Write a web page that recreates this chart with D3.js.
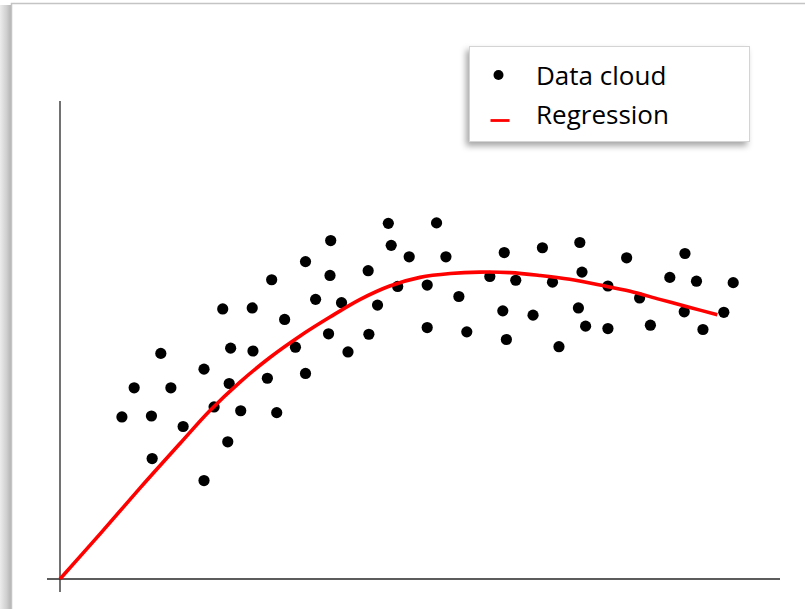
<!DOCTYPE html>
<html>
<head>
<meta charset="utf-8">
<script src="https://cdn.jsdelivr.net/npm/d3@7"></script>
<style>
  html, body { margin: 0; padding: 0; background: #ffffff; }
  svg { display: block; }
</style>
</head>
<body>
<svg id="chart" width="805" height="609"></svg>
<script>
// Scatter cloud: x positions and y values (arbitrary units, 0–100)
const cloudX = [10.3, 8.6, 12.7, 14.0, 15.4, 12.8, 17.1, 20.0, 20.0, 21.4,
  22.6, 23.3, 23.5, 23.7, 25.1, 26.7, 26.8, 28.8, 29.4, 30.1,
  31.2, 32.7, 34.1, 34.1, 35.5, 37.6, 37.5, 37.3, 39.1, 40.0,
  42.8, 42.9, 44.1, 45.6, 46.0, 46.9, 48.5, 51.0, 51.0, 52.3,
  53.6, 55.4, 56.5, 59.7, 61.5, 61.7, 62.0, 63.3, 65.7, 67.0,
  68.4, 69.3, 72.0, 72.2, 72.5, 73.0, 76.1, 76.1, 78.7, 80.5,
  82.0, 84.7, 86.8, 86.7, 88.4, 89.3, 92.2, 93.5];
const cloudY = [40.0, 33.9, 34.1, 47.2, 40.0, 25.2, 31.9, 43.9, 20.6, 36.0,
  56.5, 28.7, 40.9, 48.3, 35.2, 56.7, 47.7, 42.0, 62.6, 34.8,
  54.3, 48.5, 66.4, 43.0, 58.5, 70.8, 63.5, 51.3, 57.8, 47.5,
  64.5, 51.2, 57.3, 74.4, 69.8, 61.2, 67.4, 61.5, 52.6, 74.5,
  67.4, 59.1, 51.7, 63.3, 56.1, 68.3, 50.1, 62.5, 55.2, 69.3,
  62.1, 48.6, 56.7, 70.4, 64.2, 52.9, 61.3, 52.4, 67.2, 58.8,
  53.1, 63.1, 68.1, 55.9, 62.3, 52.2, 55.8, 62.0];

// Fitted regression curve
const fitX = [0, 5.6, 11.1, 16.7, 20.8, 25.0, 29.2, 33.3, 37.5, 41.7,
  45.8, 50.0, 54.2, 58.3, 62.5, 66.7, 70.8, 75.0, 79.2, 83.3, 87.5, 91.3];
const fitY = [0, 9.5, 19.0, 28.4, 35.2, 41.2, 46.4, 50.8, 54.8, 58.5,
  61.3, 63.1, 63.9, 64.2, 64.1, 63.5, 62.7, 61.5, 60.2, 58.5, 56.8, 55.3];

const legendLabels = ["Data cloud", "Regression"];

const svg = d3.select("#chart");
const defs = svg.append("defs");

// Soft shadow along the left side of the sheet
const grad = defs.append("linearGradient").attr("id", "sheetShade")
  .attr("x1", "0").attr("x2", "1").attr("y1", "0").attr("y2", "0");
grad.append("stop").attr("offset", "0").attr("stop-color", "#ececec");
grad.append("stop").attr("offset", "0.6").attr("stop-color", "#cfcfcf");
grad.append("stop").attr("offset", "1").attr("stop-color", "#b4b4b4");

const legendShadow = defs.append("filter").attr("id", "legendShadow")
  .attr("x", "-20%").attr("y", "-20%").attr("width", "140%").attr("height", "150%");
legendShadow.append("feDropShadow")
  .attr("dx", -3).attr("dy", 4).attr("stdDeviation", 3)
  .attr("flood-color", "#000").attr("flood-opacity", 0.35);

svg.append("rect").attr("x", 0).attr("y", 5).attr("width", 11).attr("height", 610)
  .attr("fill", "url(#sheetShade)");
svg.append("rect").attr("x", 11.5).attr("y", 3.5).attr("width", 820).attr("height", 640)
  .attr("fill", "#ffffff").attr("stroke", "#c4c4c4").attr("stroke-width", 1.5);

// Scales
const x = d3.scaleLinear().domain([0, 100]).range([60, 780]);
const y = d3.scaleLinear().domain([0, 100]).range([579, 101]);

// Axes (plain lines, no ticks)
const axisColor = "#262626";
svg.append("line")
  .attr("x1", x(0)).attr("x2", x(0))
  .attr("y1", y(100)).attr("y2", y(0) + 13)
  .attr("stroke", axisColor).attr("stroke-width", 1.3);
svg.append("line")
  .attr("x1", x(0) - 13).attr("x2", x(100))
  .attr("y1", y(0)).attr("y2", y(0))
  .attr("stroke", axisColor).attr("stroke-width", 1.3);

// Data cloud
const cloud = cloudX.map((v, i) => ({ x: v, y: cloudY[i] }));
svg.append("g").selectAll("circle").data(cloud).join("circle")
  .attr("cx", d => x(d.x)).attr("cy", d => y(d.y))
  .attr("r", 5.6).attr("fill", "#000000");

// Regression curve
const fit = fitX.map((v, i) => ({ x: v, y: fitY[i] }));
svg.append("path").datum(fit)
  .attr("d", d3.line().x(d => x(d.x)).y(d => y(d.y)).curve(d3.curveCatmullRom.alpha(0.5)))
  .attr("fill", "none").attr("stroke", "#ff0000").attr("stroke-width", 3.6)
  .attr("stroke-linecap", "butt");

// Legend
const lg = svg.append("g").attr("transform", "translate(469.5,46.5)");
lg.append("rect").attr("width", 280).attr("height", 95)
  .attr("fill", "#ffffff").attr("stroke", "#d4d4d4").attr("stroke-width", 1)
  .attr("filter", "url(#legendShadow)");
lg.append("circle").attr("cx", 29).attr("cy", 28.5).attr("r", 5).attr("fill", "#000");
lg.append("line").attr("x1", 21).attr("x2", 40).attr("y1", 74).attr("y2", 74)
  .attr("stroke", "#ff0000").attr("stroke-width", 2.8);
lg.selectAll("text").data(legendLabels).join("text")
  .attr("x", 66.5).attr("y", (d, i) => 38 + i * 39)
  .attr("font-family", "'Open Sans', sans-serif")
  .attr("font-size", 26).attr("fill", "#000")
  .text(d => d);
</script>
</body>
</html>
